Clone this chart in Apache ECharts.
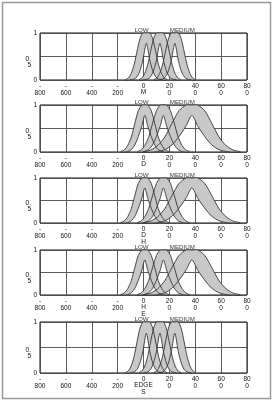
<!DOCTYPE html>
<html><head><meta charset="utf-8">
<script src="https://cdn.jsdelivr.net/npm/echarts@6/dist/echarts.min.js"></script>
<style>html,body{margin:0;padding:0;background:#fff}#c{width:274px;height:403px}</style>
</head><body><div id="c"></div>
<script>
// ---- data ----
const panelNames = ['M', 'D', 'D\nH', 'H\nE', 'EDGE\nS'];
const setLabels = ['LOW', 'MEDIUM'];
const setLabelX = [-15, 300];
const xTicks = [-800, -600, -400, -200, 0, 200, 400, 600, 800];
const yTicks = [0, 0.5, 1];

// membership grades along each band (upper / lower membership functions)
const upperMF       = [0.01, 0.04, 0.14, 0.32, 0.61, 0.88, 1, 1, 1, 0.88, 0.61, 0.32, 0.14, 0.04, 0.01];
const lowerNarrowMF = [0, 0, 0.01, 0.02, 0.07, 0.2, 0.42, 0.78, 0.42, 0.2, 0.07, 0.02, 0.01, 0, 0];
const lowerWideMF   = [0, 0, 0.01, 0.05, 0.15, 0.33, 0.56, 0.78, 0.56, 0.33, 0.15, 0.05, 0.01, 0, 0];

// x positions of the samples of each band
const narrowLowX  = [-140, -117, -95, -73, -50, -27, -5, 22, 49, 71, 94, 117, 139, 161, 184];
const narrowMidX  = [-35, -12, 10, 32, 55, 78, 100, 127, 154, 176, 199, 222, 244, 266, 289];
const narrowHighX = [80, 103, 125, 147, 170, 193, 215, 242, 269, 291, 314, 337, 359, 381, 404];
const wideLowX    = [-177, -150, -122, -94, -67, -40, -12, 10, 32, 60, 87, 114, 142, 170, 197];
const wideMidX    = [-50, -20, 10, 40, 70, 100, 130, 154, 178, 208, 238, 268, 298, 328, 358];
const wideHighX   = [0, 55, 110, 165, 220, 275, 330, 374, 418, 473, 528, 583, 638, 693, 748];

const panelBands = [
  {xs: [narrowLowX, narrowMidX, narrowHighX], lower: lowerNarrowMF},
  {xs: [wideLowX, wideMidX, wideHighX], lower: lowerWideMF},
  {xs: [wideLowX, wideMidX, wideHighX], lower: lowerWideMF},
  {xs: [wideLowX, wideMidX, wideHighX], lower: lowerWideMF},
  {xs: [narrowLowX, narrowMidX, narrowHighX], lower: lowerNarrowMF}
];

// ---- layout ----
const gridTops = [33, 105, 178, 250, 322];
const gridHeights = [47, 47, 45, 45, 51];
const FONT = 'Liberation Sans, Arial, sans-serif';
const TXT = '#111';

function fmtX(v) {
  if (v === 0) return '0';
  if (v < 0) return '-\n' + String(-v);
  const s = String(v);
  return s.slice(0, 2) + '\n' + s.slice(2);
}
function fmtY(v) {
  if (v === 0.5) return '\n\n{p|0.}\n{p|5}';
  return String(v);
}

const grids = [], xAxes = [], yAxes = [], series = [];
panelNames.forEach((name, p) => {
  grids.push({left: 40, width: 207, top: gridTops[p], height: gridHeights[p], show: true,
    borderColor: '#111', borderWidth: 1, backgroundColor: '#fff'});
  xAxes.push({type: 'value', gridIndex: p, min: xTicks[0], max: xTicks[xTicks.length - 1], interval: 200,
    axisLine: {show: false}, axisTick: {show: false},
    splitLine: {show: true, lineStyle: {color: '#4a4a4a', width: 0.9}},
    axisLabel: {fontSize: 6.5, lineHeight: 7.5, margin: 2, color: TXT, fontFamily: FONT, formatter: fmtX},
    name: name, nameLocation: 'middle', nameGap: 9, nameMoveOverlap: false,
    nameTextStyle: {fontSize: 6.5, lineHeight: 7, color: TXT, fontFamily: FONT}});
  yAxes.push({type: 'value', gridIndex: p, min: yTicks[0], max: yTicks[yTicks.length - 1], interval: 0.5,
    axisLine: {show: false}, axisTick: {show: false},
    splitLine: {show: true, lineStyle: {color: '#4a4a4a', width: 0.9}},
    axisLabel: {fontSize: 6.5, lineHeight: 6, margin: 3, color: TXT, fontFamily: FONT, formatter: fmtY,
      rich: {p: {fontSize: 6.5, lineHeight: 6, padding: [0, 6, 0, 0], color: TXT, fontFamily: FONT}}}});

  const bands = panelBands[p];
  const pts = (i, api) => {
    const xs = bands.xs[i];
    return {
      up: xs.map((x, k) => api.coord([x, upperMF[k]])),
      lo: xs.map((x, k) => api.coord([x, bands.lower[k]]))
    };
  };
  // filled footprints of uncertainty
  series.push({type: 'custom', xAxisIndex: p, yAxisIndex: p, z: 3, silent: true,
    data: bands.xs.map(xs => [xs[7], 1]),
    renderItem: (params, api) => {
      const c = pts(params.dataIndex, api);
      return {type: 'polygon', shape: {points: c.up.concat(c.lo.slice().reverse()), smooth: 0.25},
        style: {fill: '#c8c8c8', stroke: 'none'}};
    }});
  // outlines
  series.push({type: 'custom', xAxisIndex: p, yAxisIndex: p, z: 4, silent: true,
    data: bands.xs.map(xs => [xs[7], 1]),
    renderItem: (params, api) => {
      const c = pts(params.dataIndex, api);
      return {type: 'group', children: [
        {type: 'polyline', shape: {points: c.up, smooth: 0.25}, style: {stroke: '#333', lineWidth: 0.9, fill: 'none'}},
        {type: 'polyline', shape: {points: c.lo, smooth: 0.25}, style: {stroke: '#333', lineWidth: 0.9, fill: 'none'}}
      ]};
    }});
  // set labels
  series.push({type: 'scatter', xAxisIndex: p, yAxisIndex: p, z: 5, silent: true, symbolSize: 0,
    data: setLabels.map((t, i) => [setLabelX[i], 1, t]),
    label: {show: true, position: 'top', distance: 0, fontSize: 6.2, color: '#000', fontFamily: FONT,
      formatter: d => d.value[2]}});
});

const chart = echarts.init(document.getElementById('c'), null, {renderer: 'canvas'});
chart.setOption({
  animation: false,
  backgroundColor: '#fff',
  grid: grids, xAxis: xAxes, yAxis: yAxes, series: series,
  graphic: [{type: 'rect', shape: {x: 2.5, y: 2.5, width: 268, height: 396},
    style: {fill: 'none', stroke: '#9a9a9a', lineWidth: 1.5}, silent: true}]
});
</script></body></html>
